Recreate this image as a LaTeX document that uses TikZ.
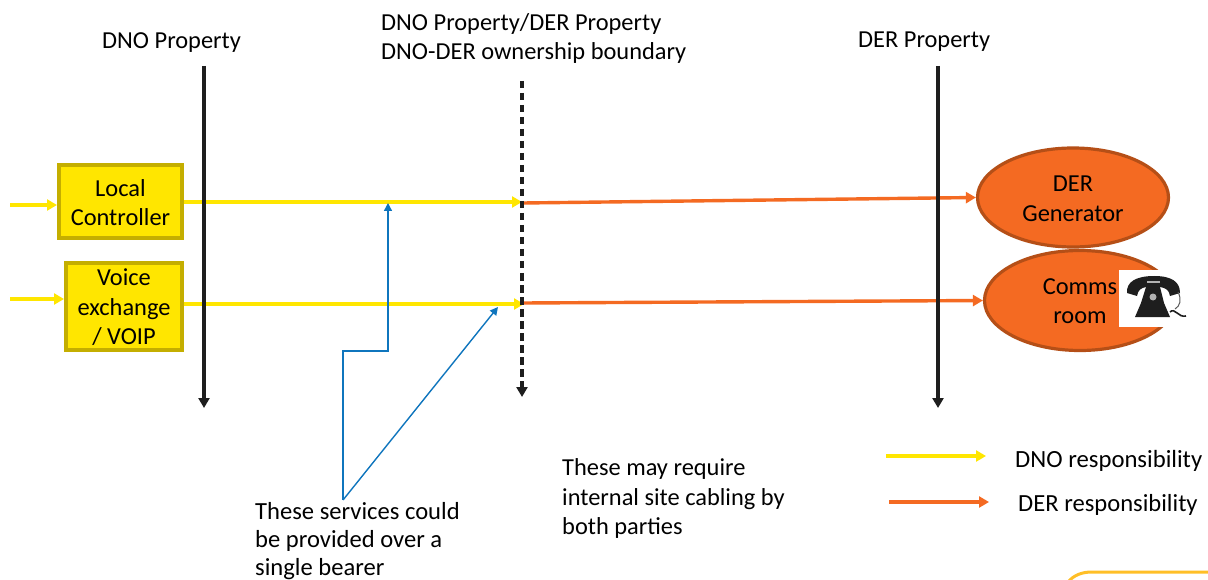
\documentclass[tikz,border=0pt]{standalone}
\usepackage{fontspec}
\setmainfont{Carlito}
\usetikzlibrary{arrows.meta,shapes.geometric}
\definecolor{dnoY}{HTML}{FFE600}
\definecolor{boxE}{HTML}{C4AE00}
\definecolor{derO}{HTML}{F46A22}
\definecolor{derE}{HTML}{B54F17}
\definecolor{bl}{HTML}{0F75BD}
\definecolor{blk}{HTML}{1E1E1E}
\definecolor{gold}{HTML}{FFBF27}
\newcommand{\tfont}{\fontsize{24.4}{29.5}\selectfont}
\tikzset{
  x=1pt,y=-1pt,
  txt/.style={font=\tfont,inner sep=0pt,align=left,anchor=north west,text=black},
  boxn/.style={draw=boxE,line width=4pt,fill=dnoY,inner sep=0pt,align=center,font=\tfont},
  ell/.style={ellipse,draw=derE,line width=3.2pt,fill=derO,inner sep=0pt,align=center,font=\tfont},
  yel/.style={draw=dnoY,line width=3.4pt,-{Triangle[length=10pt,width=11pt]}},
  ora/.style={draw=derO,line width=3.4pt,-{Triangle[length=10pt,width=11pt]}},
  bar/.style={draw=blk,line width=3.3pt,-{Triangle[length=10pt,width=11pt]}},
  blu/.style={draw=bl,line width=1.4pt,-{Triangle[length=8pt,width=8pt]}},
}
\begin{document}
\begin{tikzpicture}
\useasboundingbox (0,0) rectangle (1208,580);
% nodes
\node[boxn,minimum width=123pt,minimum height=73pt] (lc) at (120.5,201.5) {};
\node[inner sep=0pt,align=center,font=\tfont] (lct) at (120.5,202.5) {Local\\Controller};
\node[boxn,minimum width=116pt,minimum height=87pt] (vx) at (124,306.5) {};
\node[inner sep=0pt,align=center,font=\tfont] (vxt) at (124,307.5) {Voice\\exchange\\/ VOIP};
\node[ell,minimum width=191pt,minimum height=99pt] (gen) at (1073,197.5) {};
\node[inner sep=0pt,align=center,font=\tfont] (gent) at (1073,199) {DER\\Generator};
\node[ell,minimum width=191pt,minimum height=100pt] (room) at (1080,300.5) {};
\node[inner sep=0pt,align=center,font=\tfont] (roomt) at (1080,301) {Comms\\room};
\node[fill=white,minimum width=68pt,minimum height=57pt,inner sep=0pt] (ph) at (1153,298.5) {};
% telephone picture
\fill[blk] (1127,293) .. controls (1126,282) and (1136,276) .. (1154,276) .. controls (1172,276) and (1180,282) .. (1180,293) -- (1170,296) .. controls (1169,290) and (1166,288) .. (1160,287) -- (1146,287) .. controls (1141,288) and (1138,290) .. (1137,296) -- cycle;
\fill[blk] (1146,287) -- (1160,287) -- (1164,303) -- (1170,317) -- (1135,317) -- (1141,303) -- cycle;
\fill[gray!60] (1147,281) rectangle (1160,283);
\fill[gray!60] (1153,297) circle (3.5pt);
\draw[gray!70!black,line width=1pt] (1178,292) .. controls (1182,300) and (1180,306) .. (1175,309);
\draw[blk,line width=1.6pt] (1170,312) .. controls (1175,307) and (1178,318) .. (1186,316);
% coordinates
\coordinate (a1) at (204,66); \coordinate (a2) at (204,408);
\coordinate (b1) at (522,81); \coordinate (b2) at (522,397);
\coordinate (c1) at (938,66); \coordinate (c2) at (938,408);
\coordinate (l1) at (10,205); \coordinate (l2) at (10,299);
\coordinate (m1) at (522,202); \coordinate (m2) at (524,304);
\coordinate (m1b) at (523,203); \coordinate (m2b) at (523,303);
\coordinate (s) at (343,500);
\coordinate (t1) at (388,203); \coordinate (t2) at (498,307);
\coordinate (k1) at (343,351); \coordinate (k2) at (388,351);
\coordinate (ly1) at (886,456); \coordinate (ly2) at (986,456);
\coordinate (lo1) at (889,502); \coordinate (lo2) at (989,502);
% flows
\draw[yel] (l1) -- (lc.west |- l1);
\draw[yel] (l2) -- (vx.west |- l2);
\draw[yel] (lc.east |- m1) -- (m1);
\draw[yel] (vx.east |- m2) -- (m2);
\draw[ora] (m1b) -- (gen.west);
\draw[ora] (m2b) -- (room.west);
% bars
\draw[bar] (a1) -- (a2);
\draw[bar] (c1) -- (c2);
\draw[bar,line width=3.8pt,dash pattern=on 7.5pt off 4.5pt] (b1) -- (b2);
% blue
\draw[blu] (s) -- (k1) -- (k2) -- (t1);
\draw[blu] (s) -- (t2);
% legend
\draw[yel] (ly1) -- (ly2);
\draw[ora] (lo1) -- (lo2);
% labels
\node[txt] (t_a) at (102,32) {DNO Property};
\node[txt] (t_b) at (381,13) {DNO Property/DER Property\\DNO-DER ownership boundary};
\node[txt] (t_c) at (858,32) {DER Property};
\node[txt,font=\fontsize{24.6}{28}\selectfont] (t_d) at (255,502) {These services could\\be provided over a\\single bearer};
\node[txt,font=\fontsize{24.4}{29.5}\selectfont] (t_e) at (562,458.5) {These may require\\internal site cabling by\\both parties};
\node[txt,font=\fontsize{24.7}{29.5}\selectfont] (t_f) at (1015,450) {DNO responsibility};
\node[txt,font=\fontsize{24.6}{29.5}\selectfont] (t_g) at (1018,494) {DER responsibility};
% partial shape at the lower right
\draw[gold,line width=3pt] (1068,582) .. controls (1074,575) and (1082,572) .. (1092,572) -- (1210,572);
\end{tikzpicture}
\end{document}
